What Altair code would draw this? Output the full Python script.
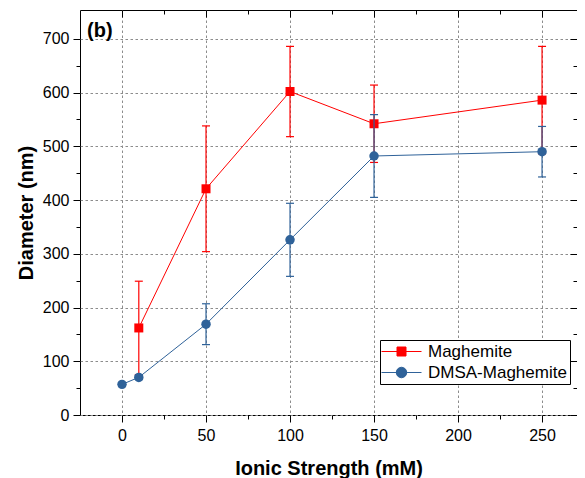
import altair as alt
import pandas as pd

# ---- data ----
mag_x = [10, 50, 100, 150, 250]
mag_y = [162, 421, 602, 542, 586]
mag_err = [87, 117, 84, 72, 100]

dmsa_x = [0, 10, 50, 100, 150, 250]
dmsa_y = [57, 70, 169, 326, 482, 490]
dmsa_err = [3, 4, 38, 68, 77, 47]

series_names = ["Maghemite", "DMSA-Maghemite"]
series_colors = ["#FF0000", "#2F6299"]

x_major = [0, 50, 100, 150, 200, 250]
x_minor = [25, 75, 125, 175, 225]
y_major = [0, 100, 200, 300, 400, 500, 600, 700]
y_minor = [50, 150, 250, 350, 450, 550, 650]
x_domain = [-25, 270.8]
y_domain = [0, 753.7]

W, H = 497, 405
FONT = "Liberation Sans"


def frame(xs, ys, errs, name):
    return pd.DataFrame({
        "x": xs,
        "y": ys,
        "lo": [v - e for v, e in zip(ys, errs)],
        "hi": [v + e for v, e in zip(ys, errs)],
        "series": name,
    })


dm = frame(mag_x, mag_y, mag_err, series_names[0])
dd = frame(dmsa_x, dmsa_y, dmsa_err, series_names[1])

xs = alt.Scale(domain=x_domain, nice=False, zero=False)
ys = alt.Scale(domain=y_domain, nice=False, zero=False)

main_x_axis = alt.Axis(values=x_major, title="Ionic Strength (mM)", orient="bottom",
                       domain=False, tickSize=7, tickColor="black", tickWidth=1,
                       labelFont=FONT, labelFontSize=16, labelColor="black", labelPadding=5,
                       titleFont=FONT, titleFontSize=20, titleFontWeight="bold",
                       titleColor="black", titlePadding=15,
                       grid=True, gridColor="#8c8c8c", gridDash=[2.5, 2.5], gridWidth=1)
main_y_axis = alt.Axis(values=y_major, title="Diameter (nm)", orient="left",
                       domain=False, tickSize=7, tickColor="black", tickWidth=1,
                       labelFont=FONT, labelFontSize=16, labelColor="black", labelPadding=4,
                       titleFont=FONT, titleFontSize=20, titleFontWeight="bold",
                       titleColor="black", titlePadding=6,
                       grid=True, gridColor="#8c8c8c", gridDash=[2.5, 2.5], gridWidth=1)


def X():
    return alt.X("x:Q", scale=xs, axis=main_x_axis)


def Y(field):
    return alt.Y(f"{field}:Q", scale=ys, axis=main_y_axis)


def series_layers(df, color, shape, size):
    base = alt.Chart(df)
    rule = base.mark_rule(color=color, strokeWidth=1.2).encode(x=X(), y=Y("lo"), y2="hi:Q")
    cap_hi = base.mark_tick(color=color, orient="horizontal", size=8, thickness=1.2,
                            opacity=1).encode(x=X(), y=Y("hi"))
    cap_lo = base.mark_tick(color=color, orient="horizontal", size=8, thickness=1.2,
                            opacity=1).encode(x=X(), y=Y("lo"))
    line = base.mark_line(color=color, strokeWidth=1).encode(x=X(), y=Y("y"))
    pts = base.mark_point(shape=shape, filled=True, color=color, size=size,
                          opacity=1).encode(x=X(), y=Y("y"))
    return [line, rule, cap_hi, cap_lo, pts]


main = alt.layer(*series_layers(dm, series_colors[0], "square", 81),
                 *series_layers(dd, series_colors[1], "circle", 90))

# legend symbols: line with marker (units of 5 px for symbolSize 100)
sq_path = "M-2,0H6M1.1,-0.9H2.9V0.9H1.1Z"
ci_path = "M-2,0H6M0.95,0A1.05,1.05,0,1,1,3.05,0A1.05,1.05,0,1,1,0.95,0Z"

leg = alt.Legend(title=None, orient="none", legendX=300, legendY=330, direction="vertical",
                 labelFont=FONT, labelFontSize=17, labelColor="black", labelOffset=28,
                 symbolSize=100, symbolStrokeWidth=1, symbolOpacity=1, padding=3,
                 rowPadding=3, strokeColor="black", fillColor="white", cornerRadius=0)

empty = alt.Chart(dm).transform_filter("false")

tick_only = dict(labels=False, domain=False, grid=False, ticks=True,
                 tickColor="black", tickWidth=1, title=None)

minor_bl = empty.mark_point(opacity=1, filled=True).encode(
    x=alt.X("x:Q", scale=xs, axis=alt.Axis(values=x_minor, tickSize=4, orient="bottom", **tick_only)),
    y=alt.Y("y:Q", scale=ys, axis=alt.Axis(values=y_minor, tickSize=4, orient="left", **tick_only)),
    fill=alt.Fill("series:N", scale=alt.Scale(domain=series_names, range=series_colors), legend=leg),
    stroke=alt.Stroke("series:N", scale=alt.Scale(domain=series_names, range=series_colors), legend=leg),
    shape=alt.Shape("series:N", scale=alt.Scale(domain=series_names, range=[sq_path, ci_path]), legend=leg),
)

major_tr = empty.mark_point(opacity=1).encode(
    x=alt.X("x:Q", scale=xs, axis=alt.Axis(values=x_major, tickSize=7, orient="bottom", offset=-H, **tick_only)),
    y=alt.Y("y:Q", scale=ys, axis=alt.Axis(values=y_major, tickSize=7, orient="left", offset=-W, **tick_only)),
)

minor_tr = empty.mark_point(opacity=1).encode(
    x=alt.X("x:Q", scale=xs, axis=alt.Axis(values=x_minor, tickSize=4, orient="bottom", offset=-H, **tick_only)),
    y=alt.Y("y:Q", scale=ys, axis=alt.Axis(values=y_minor, tickSize=4, orient="left", offset=-W, **tick_only)),
)

panel_label = alt.Chart(alt.Data(values=[{"t": "(b)"}])).mark_text(
    align="left", baseline="alphabetic", font=FONT, fontSize=20, fontWeight="bold", color="black"
).encode(x=alt.value(7), y=alt.value(26.5), text="t:N")

chart = alt.layer(main, minor_bl, major_tr, minor_tr, panel_label).resolve_scale(
    x="independent", y="independent"
).properties(
    width=W, height=H,
    autosize=alt.AutoSizeParams(type="none"),
    padding={"left": 72, "top": 2, "right": 0, "bottom": 63},
).configure_view(stroke="black", strokeWidth=1)

chart.save("out.html", embed_options={"renderer": "svg", "actions": False})
